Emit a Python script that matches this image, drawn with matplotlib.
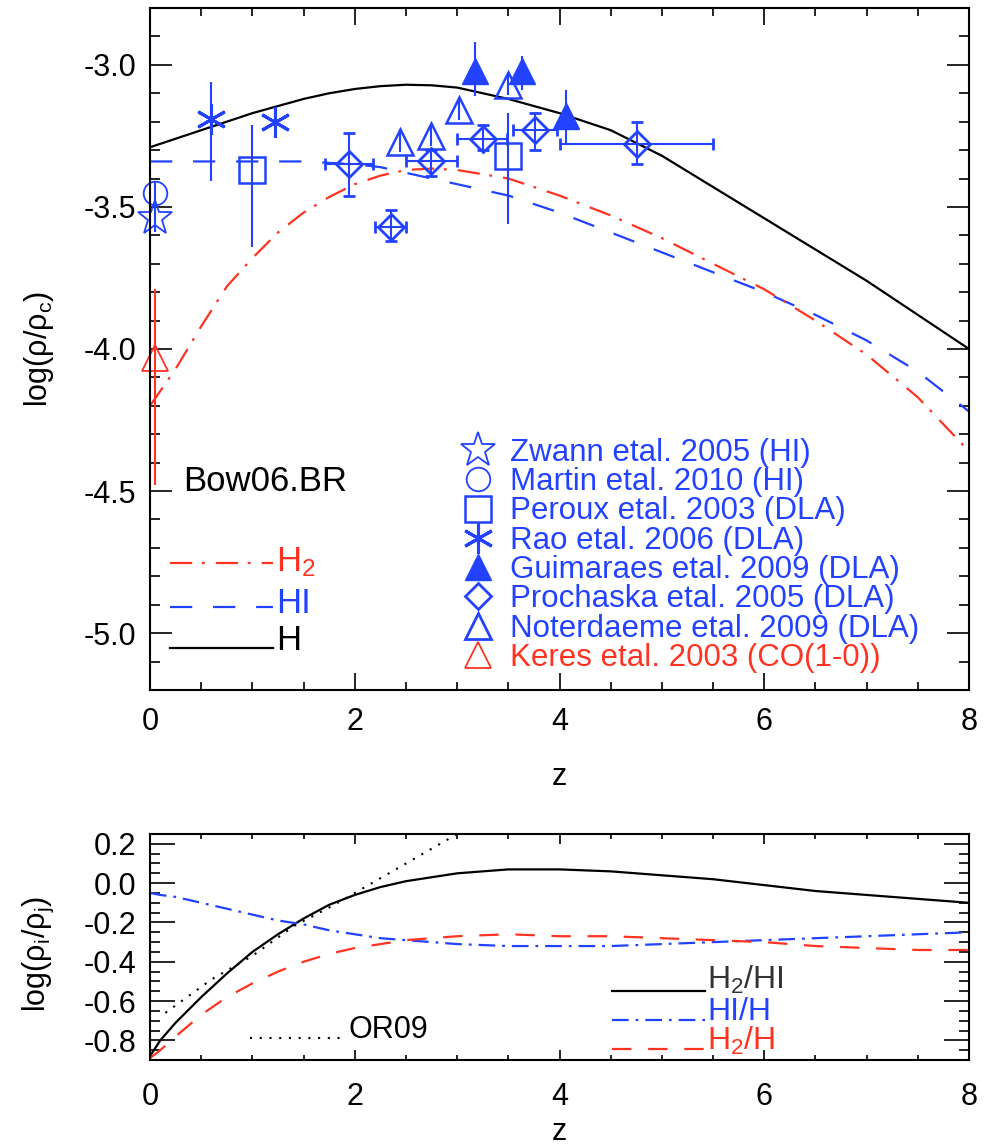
import numpy as np
import matplotlib
matplotlib.use('Agg')
import matplotlib.pyplot as plt
from matplotlib.ticker import MultipleLocator, FormatStrFormatter

plt.rcParams['font.family'] = ['Liberation Sans', 'DejaVu Sans']
plt.rcParams['mathtext.fontset'] = 'custom'
plt.rcParams['mathtext.rm'] = 'Liberation Sans'
plt.rcParams['mathtext.it'] = 'Liberation Sans:italic'
plt.rcParams['mathtext.default'] = 'regular'
plt.rcParams['axes.unicode_minus'] = False
plt.rcParams['lines.scale_dashes'] = False

BLUE = '#2242ff'
RED = '#ff3322'

# ---- model curves, upper panel (log rho/rho_c) ----
z_top = [0, 0.25, 0.5, 0.75, 1.0, 1.25, 1.5, 1.75, 2.0, 2.25, 2.5, 2.75, 3.0,
         3.5, 4.0, 4.5, 5.0, 5.5, 6.0, 6.5, 7.0, 7.5, 8.0]
h_tot = [-3.29, -3.26, -3.23, -3.20, -3.17, -3.145, -3.12, -3.10, -3.085, -3.075,
         -3.07, -3.072, -3.08, -3.12, -3.17, -3.23, -3.32, -3.43, -3.54, -3.65,
         -3.76, -3.88, -4.00]
h_hi = [-3.34, -3.34, -3.34, -3.34, -3.34, -3.34, -3.34, -3.345, -3.35, -3.36,
        -3.38, -3.40, -3.42, -3.46, -3.52, -3.59, -3.66, -3.73, -3.80, -3.88,
        -3.97, -4.08, -4.22]
h_h2 = [-4.20, -4.07, -3.92, -3.78, -3.68, -3.59, -3.52, -3.465, -3.42, -3.39,
        -3.37, -3.365, -3.37, -3.40, -3.46, -3.53, -3.61, -3.70, -3.79, -3.90,
        -4.02, -4.17, -4.36]

# ---- model ratios, lower panel ----
z_bot = [0, 0.1, 0.25, 0.5, 0.75, 1.0, 1.25, 1.5, 1.75, 2.0, 2.25, 2.5, 3.0,
         3.5, 4.0, 4.5, 5.0, 5.5, 6.0, 6.5, 7.0, 7.5, 8.0]
r_h2_hi = [-0.88, -0.80, -0.71, -0.58, -0.46, -0.35, -0.26, -0.18, -0.11, -0.06,
           -0.02, 0.01, 0.05, 0.07, 0.07, 0.06, 0.04, 0.02, -0.01, -0.04, -0.06,
           -0.08, -0.10]
r_hi_h = [-0.05, -0.06, -0.07, -0.10, -0.13, -0.16, -0.19, -0.21, -0.24, -0.26,
          -0.28, -0.29, -0.31, -0.32, -0.32, -0.32, -0.31, -0.30, -0.29, -0.28,
          -0.27, -0.26, -0.25]
r_h2_h = [-0.89, -0.85, -0.78, -0.67, -0.58, -0.51, -0.45, -0.40, -0.36, -0.33,
          -0.31, -0.29, -0.27, -0.26, -0.27, -0.27, -0.28, -0.29, -0.30, -0.32,
          -0.33, -0.34, -0.34]
z_or09 = [0.15, 0.6, 1.0, 1.4, 1.8, 2.2, 2.6, 3.0, 3.1]
r_or09 = [-0.66, -0.49, -0.37, -0.22, -0.11, 0.01, 0.13, 0.25, 0.28]

# ---- observations ----
zwann_z, zwann_v, zwann_e = [0.05], [-3.54], [0.05]
martin_z, martin_v, martin_e = [0.05], [-3.45], [0.04]
peroux_z = [1.0, 3.5]
peroux_v = [-3.37, -3.32]
peroux_lo = [0.27, 0.24]
peroux_hi = [0.16, 0.15]
rao_z = [0.6, 1.22]
rao_v = [-3.19, -3.20]
rao_lo = [0.22, 0.03]
rao_hi = [0.13, 0.03]
guim_z = [3.17, 3.63, 4.06]
guim_v = [-3.02, -3.02, -3.18]
guim_lo = [0.09, 0.07, 0.10]
guim_hi = [0.10, 0.05, 0.09]
proch_z = [1.94, 2.35, 2.74, 3.25, 3.76, 4.76]
proch_v = [-3.35, -3.57, -3.34, -3.26, -3.23, -3.28]
proch_zlo = [1.71, 2.20, 2.50, 3.00, 3.55, 4.00]
proch_zhi = [2.18, 2.50, 3.00, 3.49, 3.98, 5.50]
proch_vlo = [-3.46, -3.62, -3.39, -3.30, -3.30, -3.35]
proch_vhi = [-3.24, -3.51, -3.30, -3.21, -3.17, -3.20]
noter_z = [2.44, 2.74, 3.02, 3.50]
noter_v = [-3.27, -3.25, -3.16, -3.07]
noter_e = [0.035, 0.035, 0.035, 0.035]
keres_z, keres_v = [0.05], [-4.03]
keres_lo, keres_hi = [0.45], [0.24]

legend_labels = ['Zwann etal. 2005 (HI)', 'Martin etal. 2010 (HI)',
                 'Peroux etal. 2003 (DLA)', 'Rao etal. 2006 (DLA)',
                 'Guimaraes etal. 2009 (DLA)', 'Prochaska etal. 2005 (DLA)',
                 'Noterdaeme etal. 2009 (DLA)', 'Keres etal. 2003 (CO(1-0))']

fig = plt.figure(figsize=(9.87, 11.45), dpi=100)
ax1 = fig.add_axes([0.152, 0.3974, 0.8298, 0.5956])
ax2 = fig.add_axes([0.152, 0.0742, 0.8298, 0.1974])

lw = 1.6
ax1.plot(z_top, h_tot, color='k', lw=lw)
ax1.plot(z_top, h_hi, color=BLUE, lw=lw, ls=(0, (16, 15)))
ax1.plot(z_top, h_h2, color=RED, lw=lw, ls=(0, (16, 7, 2, 8)))

ax1.errorbar(zwann_z, zwann_v, yerr=zwann_e, fmt='*', ms=26, mfc='none',
             color=BLUE, mew=1.3, elinewidth=1.5, clip_on=False)
ax1.errorbar(martin_z, martin_v, yerr=martin_e, fmt='o', ms=17, mfc='none',
             color=BLUE, mew=1.3, elinewidth=1.5, clip_on=False)
ax1.errorbar(peroux_z, peroux_v, yerr=[peroux_lo, peroux_hi], fmt='s', ms=19,
             mfc='none', color=BLUE, elinewidth=1.5, mew=1.8)
ax1.errorbar(rao_z, rao_v, yerr=[rao_lo, rao_hi], fmt='none', color=BLUE, elinewidth=1.5)
ax1.plot(rao_z, rao_v, ls='none', marker=(6, 2, 0), ms=22, mew=2.2, color=BLUE)
ax1.errorbar(guim_z, guim_v, yerr=[guim_lo, guim_hi], fmt='^', ms=19,
             color=BLUE, elinewidth=1.5)
pz = np.array(proch_z)
pv = np.array(proch_v)
ax1.errorbar(proch_z, proch_v,
             xerr=[pz - np.array(proch_zlo), np.array(proch_zhi) - pz],
             yerr=[pv - np.array(proch_vlo), np.array(proch_vhi) - pv],
             fmt='D', ms=13.5, mfc='none', color=BLUE, elinewidth=1.5,
             mew=2.0, capsize=4, capthick=1.5)
ax1.errorbar(noter_z, noter_v, yerr=noter_e, fmt='^', ms=19, mfc='none',
             color=BLUE, elinewidth=1.5, mew=1.8)
ax1.errorbar(keres_z, keres_v, yerr=[keres_lo, keres_hi], fmt='^', ms=19,
             mfc='none', color=RED, elinewidth=1.5, mew=1.3, clip_on=False)

ax1.set_xlim(0, 8)
ax1.set_ylim(-5.2, -2.8)

# model legend, left
tr = ax1.transAxes
ax1.text(0.0403, 0.2918, 'Bow06.BR', transform=tr, fontsize=25, va='baseline')
ax1.plot([0.0244, 0.1502], [0.1862, 0.1862], transform=tr, color=RED, lw=lw,
         ls=(0, (16, 7, 2, 8)))
ax1.plot([0.0244, 0.1502], [0.1217, 0.1217], transform=tr, color=BLUE, lw=lw,
         ls=(0, (16, 15)))
ax1.plot([0.0244, 0.1502], [0.0616, 0.0616], transform=tr, color='k', lw=lw)
ax1.text(0.1538, 0.1738, 'H$_2$', transform=tr, fontsize=25, va='baseline', color=RED)
ax1.text(0.1538, 0.1129, 'HI', transform=tr, fontsize=25, va='baseline', color=BLUE)
ax1.text(0.1538, 0.0587, 'H', transform=tr, fontsize=25, va='baseline', color='k')

# data legend, right
leg_styles = [dict(marker='*', ms=26, mfc='none', mec=BLUE, mew=1.3),
              dict(marker='o', ms=17, mfc='none', mec=BLUE, mew=1.3),
              dict(marker='s', ms=19, mfc='none', mec=BLUE, mew=1.8),
              dict(marker=(6, 2, 0), ms=22, mec=BLUE, mew=2.2),
              dict(marker='^', ms=19, mfc=BLUE, mec=BLUE),
              dict(marker='D', ms=13.5, mfc='none', mec=BLUE, mew=2.0),
              dict(marker='^', ms=19, mfc='none', mec=BLUE, mew=2.0),
              dict(marker='^', ms=19, mfc='none', mec=RED, mew=1.3)]
leg_colors = [BLUE] * 7 + [RED]
for i, (lab, st, c) in enumerate(zip(legend_labels, leg_styles, leg_colors)):
    yy = 0.3519 - 0.04294 * i
    ax1.plot([0.4005], [yy], transform=tr, ls='none', **st)
    ax1.text(0.4396, yy - 0.016, lab, transform=tr, fontsize=22.5,
             va='baseline', color=c)

# lower panel
ax2.plot(z_bot, r_h2_hi, color='k', lw=lw)
ax2.plot(z_bot, r_hi_h, color=BLUE, lw=lw, ls=(0, (12, 5, 2, 5)))
ax2.plot(z_bot, r_h2_h, color=RED, lw=lw, ls=(0, (14, 12)))
ax2.plot(z_or09, r_or09, color='k', lw=1.5, ls=(0, (1.5, 5.5)))
ax2.set_xlim(0, 8)
ax2.set_ylim(-0.9, 0.25)

tr2 = ax2.transAxes
ax2.plot([0.122, 0.2357], [0.097, 0.097], transform=tr2, color='k', lw=1.5,
         ls=(0, (1.5, 5.5)))
ax2.text(0.2418, 0.097, 'OR09', transform=tr2, fontsize=22, va='baseline')
ax2.plot([0.564, 0.6777], [0.305, 0.305], transform=tr2, color='k', lw=lw)
ax2.plot([0.564, 0.6777], [0.177, 0.177], transform=tr2, color=BLUE, lw=lw,
         ls=(0, (12, 5, 2, 5)))
ax2.plot([0.564, 0.6777], [0.0487, 0.0487], transform=tr2, color=RED, lw=lw,
         ls=(0, (14, 12)))
ax2.text(0.680, 0.316, 'H$_2$/HI', transform=tr2, fontsize=23, va='baseline', color='#333333')
ax2.text(0.680, 0.175, 'HI/H', transform=tr2, fontsize=23, va='baseline', color=BLUE)
ax2.text(0.680, 0.046, 'H$_2$/H', transform=tr2, fontsize=23, va='baseline', color=RED)

for ax in (ax1, ax2):
    for sp in ax.spines.values():
        sp.set_linewidth(1.5)
    ax.xaxis.set_major_locator(MultipleLocator(2))
    ax.xaxis.set_minor_locator(MultipleLocator(0.5))
    ax.xaxis.set_major_formatter(FormatStrFormatter('%d'))
    ax.yaxis.set_major_formatter(FormatStrFormatter('%.1f'))
    ax.tick_params(which='both', direction='in', top=True, right=True,
                   labelsize=22, width=1.2)
    ax.set_xlabel('z', fontsize=22)

ax1.yaxis.set_major_locator(MultipleLocator(0.5))
ax1.yaxis.set_minor_locator(MultipleLocator(0.1))
ax1.tick_params(axis='y', which='major', length=16, pad=10)
ax1.tick_params(axis='y', which='minor', length=7)
ax1.tick_params(axis='x', which='major', length=12, pad=12)
ax1.tick_params(axis='x', which='minor', length=6)

ax2.yaxis.set_major_locator(MultipleLocator(0.2))
ax2.yaxis.set_minor_locator(MultipleLocator(0.05))
ax2.tick_params(axis='y', which='major', length=18, pad=10)
ax2.tick_params(axis='y', which='minor', length=7)
ax2.tick_params(axis='x', which='major', length=7, pad=16)
ax2.tick_params(axis='x', which='minor', length=3.6)

ax1.set_ylabel('log(ρ/ρ$_c$)', fontsize=22)
ax2.set_ylabel('log(ρ$_i$/ρ$_j$)', fontsize=22)
ax1.yaxis.set_label_coords(-0.115, 0.5)
ax2.yaxis.set_label_coords(-0.115, 0.47)
ax1.xaxis.set_label_coords(0.5, -0.105)
ax2.xaxis.set_label_coords(0.5, -0.25)

fig.savefig('out.png', dpi=100)
